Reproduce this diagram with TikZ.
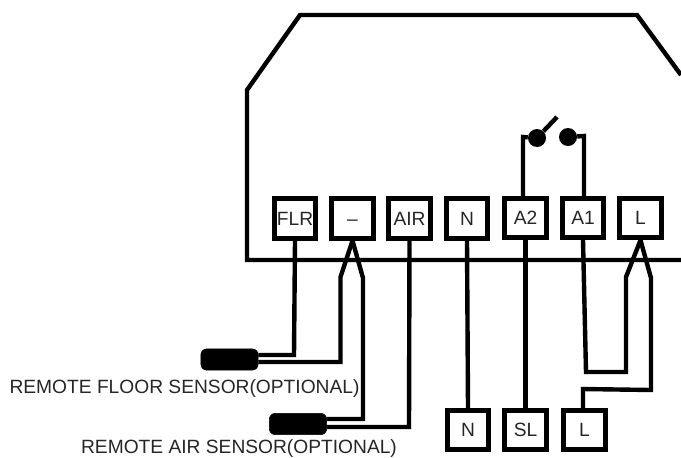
\documentclass[tikz,border=0pt]{standalone}
\usepackage{fontspec}
\setmainfont{Liberation Sans}
\usetikzlibrary{calc}
\tikzset{
  terminal/.style={draw,line width=3.75pt,minimum width=31pt,minimum height=29.5pt,inner sep=0pt,font=\fontsize{14.4}{16}\selectfont,text=black!85},
  wire/.style={line width=3.3pt,line join=miter},
  probe/.style={fill=black,draw=black,rounded corners=4.5pt,minimum width=43pt,minimum height=16pt,inner sep=0pt},
  contact/.style={circle,fill=black,minimum size=13.5pt,inner sep=0pt},
  caption/.style={font=\fontsize{14.4}{16}\selectfont,text=black!85,inner sep=0pt}
}
\begin{document}
\begin{tikzpicture}[x=0.75pt,y=-0.75pt]
            \useasboundingbox (0,0) rectangle (681,457);

            \coordinate (P) at (681,260);
            \coordinate (Q) at (247,260);
            \coordinate (R) at (247,90);
            \coordinate (S) at (300,15);
            \coordinate (T) at (637,15);
            \coordinate (U) at (681,75);
            \draw[wire] (P) -- (Q) -- (R) -- (S) -- (T) -- (U);

            \node[terminal] (FLR) at (295,218.5) {FLR};
            \node[terminal] (MINUS) at (352.5,218.5) {\vphantom{A}--};
            \node[terminal] (AIR) at (409.5,218.5) {AIR};
            \node[terminal] (N) at (467,218.5) {N};
            \node[terminal] (A2) at (525.5,218) {A2};
            \node[terminal] (A1) at (583,218) {A1};
            \node[terminal] (L) at (640.5,218) {L};

            \node[terminal] (N2) at (468,430) {N};
            \node[terminal] (SL) at (525.5,430) {SL};
            \node[terminal] (L2) at (584.5,430) {L};

            \node[probe] (FS) at (229.5,359.5) {};
            \node[probe] (AS) at (298,424) {};
            \node[caption] (FT) at (184.5,388.5) {REMOTE FLOOR SENSOR(OPTIONAL)};
            \node[caption] (AT) at (239,449) {REMOTE AIR SENSOR(OPTIONAL)};

            % floor sensor
            \coordinate (a) at (294,355);
            \coordinate (b) at (340.5,277);
            \coordinate (c) at (340.5,362);
            \draw[wire] (FLR.south) -- (a) -- (a -| FS.east);
            \draw[wire] (MINUS.south) -- (b) -- (c) -- (c -| FS.east);

            % air sensor
            \coordinate (d) at (363,278);
            \coordinate (e) at (363,419);
            \coordinate (f) at (409,427);
            \draw[wire] (MINUS.south) -- (d) -- (e) -- (e -| AS.east);
            \draw[wire] (AIR.south) -- (f) -- (f -| AS.east);

            % neutral and switched live
            \draw[wire] (N.south) -- (N2.north);
            \draw[wire] (A2.south) -- (SL.north);

            % relay
            \node[contact] (K1) at (537,138) {};
            \node[contact] (K2) at (568,137) {};
            \coordinate (g) at (557,117);
            \coordinate (h) at (523,137);
            \coordinate (i) at (584,136);
            \draw[wire] (A2.north -| h) -- (h) -- (K1);
            \draw[wire] (K1) -- (g);
            \draw[wire] (A1.north -| i) -- (i) -- (K2);

            % live loop
            \coordinate (j) at (586,372);
            \coordinate (k) at (626,372);
            \coordinate (l) at (626,277);
            \coordinate (m) at (651,278);
            \coordinate (n) at (651,390);
            \coordinate (o) at (583,389);
            \draw[wire] (A1.south) -- (j) -- (k) -- (l) -- (L.south);
            \draw[wire] (L.south) -- (m) -- (n) -- (o) -- (L2.north -| o);
\end{tikzpicture}
\end{document}
